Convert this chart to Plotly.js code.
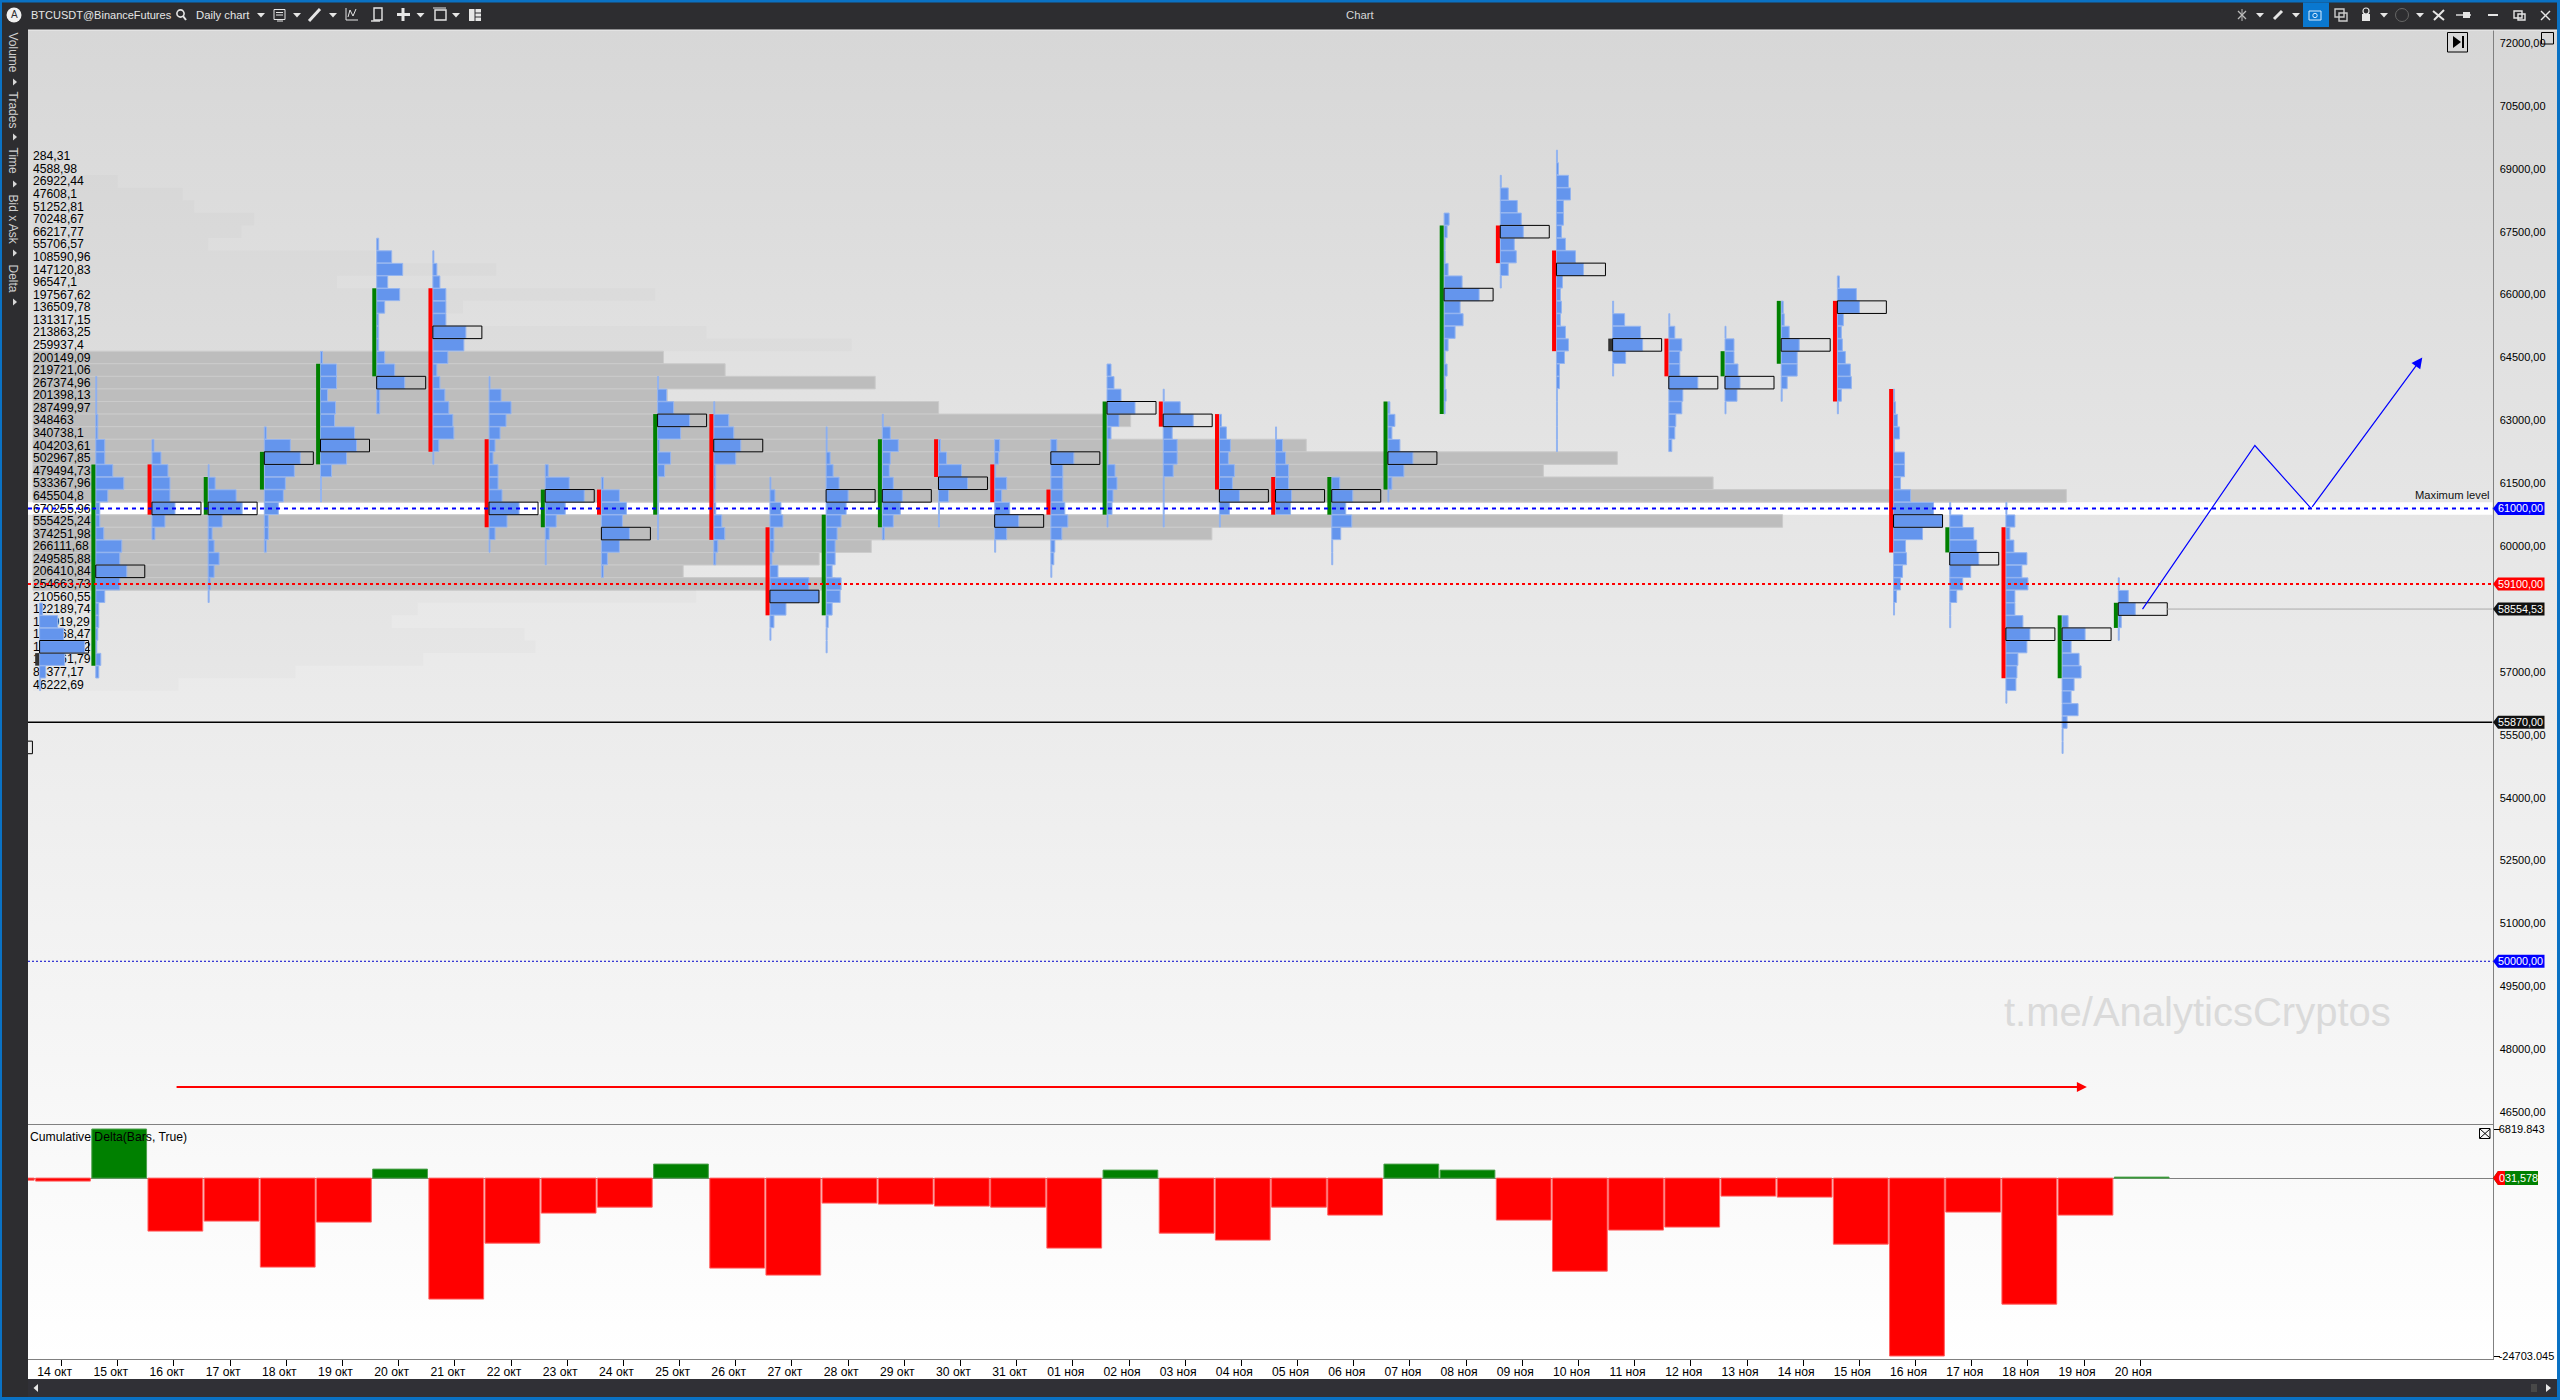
<!DOCTYPE html>
<html><head><meta charset="utf-8">
<script src="https://cdn.plot.ly/plotly-3.0.1.min.js"></script>
<style>
html,body{margin:0;padding:0;width:2560px;height:1400px;overflow:hidden;background:linear-gradient(to bottom,#d7d7d7 0,#d7d7d7 30px,#ffffff 1359px);}
#c{width:2560px;height:1400px;}
</style></head><body><div id="c"></div>
<script>
// ---------- data ----------
const dayLabels=["14 окт","15 окт","16 окт","17 окт","18 окт","19 окт","20 окт","21 окт","22 окт","23 окт","24 окт","25 окт","26 окт","27 окт","28 окт","29 окт","30 окт","31 окт","01 ноя","02 ноя","03 ноя","04 ноя","05 ноя","06 ноя","07 ноя","08 ноя","09 ноя","10 ноя","11 ноя","12 ноя","13 ноя","14 ноя","15 ноя","16 ноя","17 ноя","18 ноя","19 ноя","20 ноя"];
const priceTicks=[72000,70500,69000,67500,66000,64500,63000,61500,60000,57000,55500,54000,52500,51000,49500,48000,46500];
const rowTopPrice=69300, rowStep=300;
const rowVolumes=[284.31,4588.98,26922.44,47608.1,51252.81,70248.67,66217.77,55706.57,108590.96,147120.83,96547.1,197567.62,136509.78,131317.15,213863.25,259937.4,200149.09,219721.06,267374.96,201398.13,287499.97,348463,340738.1,404203.61,502967.85,479494.73,533367.96,645504.8,670255.96,555425.24,374251.98,266111.68,249585.88,206410.84,254663.73,210560.55,122189.74,113919.29,156068.47,159600.12,123961.79,83377.17,46222.69];
const valueAreaFirst=16, valueAreaLast=34;
const profileTop=[58500,63900,62400,61800,62700,64500,67200,66900,63900,61800,61500,63900,63300,61500,62700,63000,62400,62400,62400,64200,63600,63000,62700,61500,63300,67800,68700,69300,65700,65400,65100,65700,66300,63600,60900,60900,58200,59100];
const profileVolume=[
[3,18,24,45,25,6,1],
[1,1,1,2,2,9,9,17,28,12,4,4,8,26,24,31,24,9,3,3,2,1,5,3],
[2,9,16,18,18,23,13,3],
[1,7,28,34,14,4,6,11,6,2,1],
[2,26,36,30,21,19,14,4,4,2],
[2,16,16,7,15,14,34,36,26,11,1,1],
[2,15,26,11,23,8,2,2,2,8,18,28,3,3],
[1,4,7,13,13,13,33,31,15,4,7,12,16,20,21,6,1],
[1,12,22,17,11,6,4,9,9,13,30,18,6,1],
[3,24,39,20,11,4,1,1],
[2,18,25,21,28,18,6,2],
[1,9,16,32,23,2,13,7,1,1,1,1,1],
[1,15,20,27,22,2,2,1,2,8,11,4,2],
[1,5,11,13,4,4,2,8,39,49,16,4,1],
[1,1,4,7,13,22,20,15,11,9,9,6,15,14,6,2,1,1],
[1,8,16,8,7,11,20,18,11,2],
[2,8,23,29,10,1,1],
[5,4,1,12,7,15,24,12,1],
[6,23,12,12,12,14,17,11,4,3,1],
[4,7,14,28,12,4,1,1,8,10,6,5,1],
[1,17,30,9,14,14,10,1,1,1,1],
[2,7,11,9,15,13,20,10,1],
[1,7,10,13,13,16,15],
[8,21,14,20,9,1,1],
[2,7,4,12,25,16,4,1],
[5,3,1,1,4,18,35,16,19,11,4,1,3,1,2,1],
[1,8,17,21,23,14,16,8,1],
[1,2,12,14,7,7,5,9,19,27,6,4,5,4,9,12,8,3,3,1,1,1,1,1],
[1,12,28,30,13,1],
[1,6,13,11,11,29,14,13,7,6,3],
[1,9,9,13,15,12,1],
[2,3,8,18,16,16,6,1],
[2,19,22,6,4,5,8,13,14,4,1],
[1,2,4,6,1,11,11,7,17,40,49,29,12,13,9,7,3,1],
[1,13,24,27,29,21,13,7,1,1],
[1,9,4,8,21,16,22,9,9,17,24,21,12,11,10,1],
[6,23,9,17,19,12,9,16,5,1,1],
[1,10,17,3,1]];
const pocPrice=[57600,59400,60900,60900,62100,62400,63900,65100,60900,61200,60300,63000,62400,58800,61200,61200,61500,60600,62100,63300,63000,61200,61200,61200,62100,66000,67500,66600,64800,63900,63900,64800,65700,60600,59700,57900,57900,58500];
const pocPriorDay=55200;
const candleOpen=[57300,57150,61950,60750,61350,61950,64050,66150,62550,60450,61350,60750,63150,60450,58350,60450,62550,61950,61350,60750,63450,63150,61650,60750,61350,63150,67650,67050,64800,64950,64050,64350,65850,63750,59850,60450,56850,58050];
const candleClose=[57300,61950,60750,61650,62250,64350,66150,62250,60450,61350,60750,63150,60150,58350,60750,62550,61650,61050,60750,63450,62850,61350,60750,61650,63450,67650,66750,64650,64800,64050,64650,65850,63450,59850,60450,56850,58350,58650];
const deltaValues=[-417,6819.843,-7360,-5970,-12360,-6110,1250,-16800,-9030,-4860,-4030,1945,-12500,-13470,-3470,-3610,-3890,-4030,-9720,1110,-7640,-8610,-4030,-5140,1945,1110,-5830,-12920,-7220,-6800,-2500,-2640,-9170,-24703.045,-4720,-17500,-5140,140];
const deltaPriorDay=-280;
const maxLevel=60900, minLevel=59100, lowLevel=55800, lastLevel=58500, roundLevel=50100;
const pathX=[37.04,39.04,40.04,42.02], pathY=[58500,62400,60900,64500];
const redArrowX=[2.02,36.05], redArrowY=[47100,47100];

// ---------- pixel geometry of the panes ----------
const W=2560,H=1400, L=28,R=2492.5, T=30,M=1125,B=1359;
const xRange=[(L-61.6)/56.18,(R-61.6)/56.18];
const pxPerPrice=0.04193;
const yRange=[72000-(M-43)/pxPerPrice,72000-(T-43)/pxPerPrice];
const dRange=[-24703.045-(B-1356)/0.0072,6819.843+(1129-M)/0.0072];
const px=x=>x/W, py=y=>1-y/H;
const priceY=p=>43+(72000-p)*pxPerPrice;
const volToX=1/56.18, baseOff=-22/56.18, candleOff=-24.4/56.18, boxW=49/56.18, barBase=(33-61.6)/56.18;
const rowPrice=i=>rowTopPrice-rowStep*i;
const rowText=v=>String(v).replace('.',',');
const FONT='"Liberation Sans",Arial,sans-serif';

// ---------- traces ----------
const traces=[];
const rowsY=rowVolumes.map((v,i)=>rowPrice(i));
const isArea=i=>i>=valueAreaFirst&&i<=valueAreaLast;
const isMax=i=>rowPrice(i)===maxLevel;
traces.push({type:'bar',orientation:'h',xaxis:'x',yaxis:'y',hoverinfo:'skip',showlegend:false,
  y:rowsY,x:rowVolumes.map(v=>v*0.00315*volToX),base:rowVolumes.map(()=>barBase),width:rowStep,
  marker:{color:rowVolumes.map((v,i)=>isMax(i)?'rgba(0,0,0,0)':isArea(i)?'#bdbdbd':'rgba(0,0,0,0.014)'),
          line:{color:rowVolumes.map((v,i)=>(isArea(i)&&!isMax(i))?'#cbcbcb':'rgba(0,0,0,0)'),width:1}}});
traces.push({type:'scatter',mode:'text',xaxis:'x',yaxis:'y',hoverinfo:'skip',showlegend:false,
  x:rowVolumes.map(()=>barBase),y:rowsY.map(p=>p-25),text:rowVolumes.map(rowText),textposition:'middle right',
  textfont:{family:FONT,size:12.2,color:'#000'},cliponaxis:false});
// blue profiles
const bx=[],by=[],bb=[];
profileVolume.forEach((rows,d)=>rows.forEach((v,i)=>{bx.push(v*volToX);by.push(profileTop[d]-rowStep*i);bb.push(d+baseOff);}));
traces.push({type:'bar',orientation:'h',xaxis:'x3',yaxis:'y3',hoverinfo:'skip',showlegend:false,
  x:bx,y:by,base:bb,width:rowStep*0.96,marker:{color:'#6495ed',line:{color:'#95b5f0',width:1}}});
// candles
[['#008000',(o,c)=>c>o],['#ff0000',(o,c)=>c<o],['#333333',(o,c)=>c===o]].forEach(([col,test])=>{
  const x=[],y=[];
  candleOpen.forEach((o,d)=>{const c=candleClose[d];if(!test(o,c))return;
    const doji=o===c;x.push(d+candleOff,d+candleOff,null);y.push(doji?o+150:o,doji?c-150:c,null);});
  traces.push({type:'scatter',mode:'lines',xaxis:'x3',yaxis:'y3',hoverinfo:'skip',showlegend:false,x,y,line:{color:col,width:4}});
});
// POC boxes
const px_=[],py_=[];
const addBox=(d,p)=>{const a=d+baseOff,b=a+boxW;px_.push(a,b,b,a,a,null);py_.push(p+150,p+150,p-150,p-150,p+150,null);};
pocPrice.forEach((p,d)=>addBox(d,p));addBox(-1,pocPriorDay);
traces.push({type:'scatter',mode:'lines',xaxis:'x3',yaxis:'y3',hoverinfo:'skip',showlegend:false,x:px_,y:py_,line:{color:'#000',width:1}});
// levels
const lvl=(y,x0,col,w,dash)=>traces.push({type:'scatter',mode:'lines',xaxis:'x3',yaxis:'y3',hoverinfo:'skip',showlegend:false,x:[x0,xRange[1]],y:[y,y],line:{color:col,width:w,dash}});
lvl(lastLevel,37+baseOff+boxW,'#aaaaaa',1,'solid');
lvl(lowLevel,xRange[0],'#000000',1.3,'solid');
lvl(roundLevel,xRange[0],'#0000cc',1,'2px,2px');
lvl(minLevel,xRange[0],'#ff0000',2,'3px,3px');
lvl(maxLevel,xRange[0],'#0000ff',2,'4px,4px');
// drawn paths
traces.push({type:'scatter',mode:'lines',xaxis:'x3',yaxis:'y3',hoverinfo:'skip',showlegend:false,x:pathX.slice(0,3),y:pathY.slice(0,3),line:{color:'#0000ff',width:1.2}});
// delta
const dx=[-1].concat(dayLabels.map((s,i)=>i)).map(i=>i+0.025), dy=[deltaPriorDay].concat(deltaValues);
traces.push({type:'bar',xaxis:'x2',yaxis:'y2',hoverinfo:'skip',showlegend:false,x:dx,y:dy,width:0.975,
  marker:{color:dy.map(v=>v>=0?'#008000':'#ff0000'),line:{color:dy.map(v=>v>=0?'#4ca04c':'#ff6060'),width:1}}});

// ---------- chrome (window frame, toolbar) ----------
const shapes=[],ann=[];
const DARK='#2d2d30',BLUE='#0a72c4',ICON='#e6e6e6';
const rect=(x0,y0,x1,y1,fill,line,w)=>shapes.push({type:'rect',xref:'paper',yref:'paper',x0:px(x0),x1:px(x1),y0:py(y0),y1:py(y1),fillcolor:fill||'rgba(0,0,0,0)',line:{color:line||'rgba(0,0,0,0)',width:line?(w||1):0}});
const seg=(x0,y0,x1,y1,col,w)=>shapes.push({type:'line',xref:'paper',yref:'paper',x0:px(x0),x1:px(x1),y0:py(y0),y1:py(y1),line:{color:col,width:w||1}});
const poly=(pts,fill)=>shapes.push({type:'path',xref:'paper',yref:'paper',path:'M'+pts.map(p=>px(p[0])+','+py(p[1])).join('L')+'Z',fillcolor:fill,line:{width:0}});
const circ=(x,y,r,fill,line,w)=>shapes.push({type:'circle',xref:'paper',yref:'paper',x0:px(x-r),x1:px(x+r),y0:py(y-r),y1:py(y+r),fillcolor:fill||'rgba(0,0,0,0)',line:{color:line||'rgba(0,0,0,0)',width:line?(w||1):0}});
const caret=x=>poly([[x-4,13],[x+4,13],[x,17.5]],ICON);
const txt=(x,y,t,o)=>ann.push(Object.assign({xref:'paper',yref:'paper',x:px(x),y:py(y),text:t,showarrow:false,xanchor:'left',yanchor:'middle',font:{family:FONT,size:11.5,color:'#e0e0e0'}},o||{}));

rect(0,0,W,30,DARK);rect(0,30,28,H,DARK);rect(28,1379,2557,1397,'#303036');
rect(0,0,W,2.5,BLUE);rect(0,0,2,H,BLUE);rect(2557,0,W,H,BLUE);rect(0,1397,W,H,BLUE);
seg(28,30,2557,30,'#f0f0f0',1);
circ(14,15,7.5,'#f0f0f0');txt(14,15,'A',{xanchor:'center',font:{family:FONT,size:10,color:DARK}});
txt(29,15,'BTCUSDT@BinanceFutures',{font:{family:FONT,size:11,color:'#e6e6e6'}});
circ(180.5,13.5,3.6,null,ICON,1.6);seg(183,16,186,20,ICON,2);
txt(194,15,'Daily chart',{font:{family:FONT,size:11.3,color:'#e6e6e6'}});
[261,297,333,420.5,456,2260,2296,2384,2420].forEach(caret);
rect(274,9.5,285,19.5,null,ICON,1);seg(276,12.5,283,12.5,ICON,1);seg(276,15,283,15,ICON,1);seg(277,21,283,21,ICON,1);
seg(309,21,320,9,ICON,3);
seg(346,8,346,20,ICON,1);seg(346,20,358,20,ICON,1);shapes.push({type:'path',xref:'paper',yref:'paper',path:'M'+[[348,17],[350,10],[353,16],[356,9]].map(p=>px(p[0])+','+py(p[1])).join('L'),line:{color:ICON,width:1}});
rect(374,8,382,20,null,ICON,1.4);seg(371,21,380,21,ICON,1.4);
rect(401.5,8,404.5,21,ICON);rect(397,13,410,16,ICON);
rect(435,10,446,20,null,ICON,1.4);seg(433,8,446,8,ICON,1);
rect(469,9,481,21,ICON);seg(475,9,475,21,DARK,1);seg(475,13,481,13,DARK,1);seg(475,17,481,17,DARK,1);
txt(1360,15,'Chart',{xanchor:'center',font:{family:FONT,size:11.3,color:'#d8d8d8'}});
// right side toolbar icons
seg(2238,11,2246,19,'#bbbbbb',1.3);seg(2246,11,2238,19,'#bbbbbb',1.3);seg(2242,9,2242,21,'#bbbbbb',1);
seg(2274,19,2282,11,ICON,3);
rect(2303,2.5,2329,27,'#0a78d0');rect(2309,11,2321,20,null,'#d8ecff',1);circ(2315,15.5,2.2,null,'#d8ecff',1);
rect(2335,9,2344,17,null,'#cccccc',1.4);rect(2339,13,2347,21,null,'#cccccc',1.4);
rect(2362,14,2370,21,ICON);shapes.push({type:'circle',xref:'paper',yref:'paper',x0:px(2363),x1:px(2369),y0:py(14),y1:py(8),line:{color:ICON,width:1.2}});
circ(2402,15,6.5,null,'#666666',1);
seg(2433,11,2444,20,ICON,2);seg(2444,10,2434,20,ICON,2);
seg(2456,15,2471,15,ICON,1.4);rect(2463,12,2470,18,ICON);
rect(2488,14,2498,16,ICON);
rect(2514,11,2522,18,null,ICON,1.4);rect(2518,14,2525,20,null,ICON,1.4);
seg(2541,11,2550,20,ICON,1.4);seg(2550,11,2541,20,ICON,1.4);
// sidebar
const side=(y,t)=>txt(12.5,y,t,{xanchor:'center',textangle:90,font:{family:FONT,size:12,color:'#d0d0d0'}});
side(52,'Volume');side(110,'Trades');side(161,'Time');side(219,'Bid x Ask');side(278,'Delta');
[82,137,184,253,302].forEach(y=>poly([[13,y-3.5],[17,y],[13,y+3.5]],'#d8d8d8'));
// bottom scroll bar
poly([[38,1384],[33.5,1388],[38,1392]],'#e8e8e8');rect(2531,1384,2537,1392,'#484848');poly([[2546,1384],[2551,1388],[2546,1392]],'#e8e8e8');
// pane buttons
rect(2447.5,32.5,2467.5,52,null,'#000',1);poly([[2453,36],[2461,42],[2453,48]],'#000');rect(2462,36,2464,48,'#000');
rect(2541.5,32.5,2553.5,44,null,'#000',1);
rect(2479.5,1128.5,2490,1138.5,null,'#000',1);seg(2480,1129,2490,1138,'#000',1);seg(2490,1129,2480,1138,'#000',1);
// white maximum row
shapes.push({type:'rect',xref:'paper',yref:'y',layer:'below',x0:px(L),x1:px(R),y0:maxLevel-150,y1:maxLevel+150,fillcolor:'#ffffff',line:{width:0}});
// price tags
const tag=(y,t,col,right,tcol)=>{const r=right||2544.5;
  poly([[2493,y],[2498,y-6.5],[r,y-6.5],[r,y+6.5],[2498,y+6.5]],col);
  txt(2496,y,t,{font:{family:FONT,size:10.8,color:tcol||'#fff'}});};
tag(priceY(maxLevel),'61000,00','#0000ff');
tag(priceY(minLevel),'59100,00','#ff0000');
tag(priceY(lastLevel),'58554,53','#111111');
tag(priceY(lowLevel),'55870,00','#111111');
tag(priceY(roundLevel),'50000,00','#0000ff');
poly([[2493,1178],[2498,1171],[2538,1171],[2538,1185],[2498,1185]],'#008000');
poly([[2493,1178],[2498,1171],[2505,1171],[2505,1185],[2498,1185]],'#ff0000');
txt(2497,1178,'031,578',{font:{family:FONT,size:10.8,color:'#fff'}});
// text in the panes
txt(2492,495,'Maximum level',{xanchor:'right',font:{family:FONT,size:11.2,color:'#111'}});
txt(28,1137,'Cumulative Delta(Bars, True)',{font:{family:FONT,size:12.2,color:'#000'}});
txt(2197,1012,'t.me/AnalyticsCryptos',{xanchor:'center',font:{family:FONT,size:40,color:'#dadada'}});
// arrows
const arrow=(x,y,ax,ay,col,w,size)=>ann.push({xref:'x3',yref:'y3',axref:'x3',ayref:'y3',x,y,ax,ay,text:'',showarrow:true,arrowhead:2,arrowsize:size,arrowwidth:w,arrowcolor:col,standoff:0,startstandoff:0});
arrow(pathX[3],pathY[3],pathX[2],pathY[2],'#0000ff',1.2,1.8);
arrow(redArrowX[1],redArrowY[1],redArrowX[0],redArrowY[0],'#ff0000',2,1);

const tickFont={family:FONT,size:11,color:'#000'};
const layout={width:W,height:H,margin:{l:0,r:0,t:0,b:0},paper_bgcolor:'rgba(0,0,0,0)',plot_bgcolor:'rgba(0,0,0,0)',
  barmode:'overlay',showlegend:false,shapes,annotations:ann,hovermode:false,
  xaxis:{domain:[px(L),px(R)],range:xRange,showgrid:false,zeroline:false,showticklabels:false,ticks:'',anchor:'y'},
  yaxis:{domain:[py(M),py(T)],range:yRange,side:'right',anchor:'x',showgrid:false,zeroline:false,showline:true,linecolor:'#808080',linewidth:1,
    tickmode:'array',tickvals:priceTicks,ticktext:priceTicks.map(p=>p+',00'),ticks:'',tickfont:tickFont,ticklabelposition:'outside',ticklabelstandoff:4},
  xaxis3:{domain:[px(L),px(R)],range:xRange,overlaying:'x',visible:false,anchor:'y3'},
  yaxis3:{domain:[py(M),py(T)],range:yRange,overlaying:'y',visible:false,anchor:'x3'},
  xaxis2:{domain:[px(L),px(R)],range:xRange,anchor:'y2',showgrid:false,zeroline:false,showline:true,mirror:true,linecolor:'#808080',linewidth:1,
    tickmode:'array',tickvals:dayLabels.map((s,i)=>i),ticktext:dayLabels,ticks:'outside',ticklen:6,tickcolor:'#000',tickwidth:1,tickangle:0,ticklabelshift:-7,ticklabelstandoff:-5,
    tickfont:{family:FONT,size:12.2,color:'#000'}},
  yaxis2:{domain:[py(B),py(M)],range:dRange,side:'right',anchor:'x2',showgrid:false,zeroline:true,zerolinecolor:'#808080',zerolinewidth:1,showline:true,linecolor:'#808080',linewidth:1,
    tickmode:'array',tickvals:[6819.843,-24703.045],ticktext:['6819.843','-24703.045'],ticks:'outside',ticklen:6,tickcolor:'#000',tickwidth:1,ticklabelstandoff:-3,tickfont:tickFont}
};
Plotly.newPlot('c',traces,layout,{staticPlot:true,displayModeBar:false});
</script></body></html>
